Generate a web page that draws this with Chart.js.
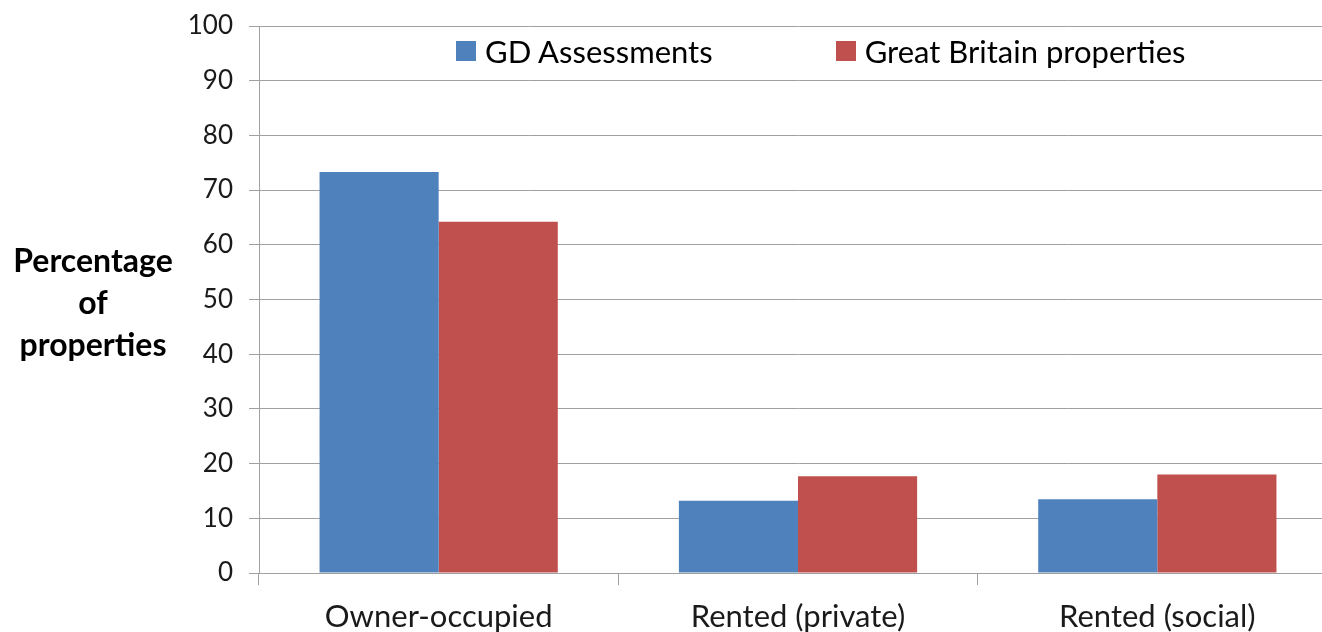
<!DOCTYPE html>
<html>
<head>
<meta charset="utf-8">
<script src="https://cdn.jsdelivr.net/npm/chart.js@4/dist/chart.umd.min.js"></script>
<style>
  html, body { margin: 0; padding: 0; background: #fff; overflow: hidden; }
  #wrap { position: relative; width: 1337px; height: 632px; }
  #legend {
    position: absolute; left: 456px; top: 32px;
    display: flex; align-items: center; gap: 123px;
    font: 31px Lato, "Open Sans", sans-serif; color: #000;
  }
  #legend .item { display: flex; align-items: center; white-space: nowrap; }
  #legend .box { width: 20px; height: 20px; margin-right: 9px; }
</style>
</head>
<body>
<div id="wrap">
  <canvas id="tenureChart" width="1337" height="632"></canvas>
  <div id="legend"></div>
</div>
<script>
const categories = ['Owner-occupied', 'Rented (private)', 'Rented (social)'];
const gdAssessments = [73.3, 13.2, 13.5];
const gbProperties = [64.2, 17.7, 18.0];
const yTicks = { min: 0, max: 100, step: 10 };
const yTitleLines = ['Percentage', 'of', 'properties'];

const FONT = 'Lato, "Open Sans", sans-serif';
const gridGray = '#a0a0a0';

// html legend, built from the datasets
const htmlLegend = {
    id: 'htmlLegend',
    afterUpdate(chart) {
        const box = document.getElementById('legend');
        box.innerHTML = '';
        chart.data.datasets.forEach(ds => {
            const item = document.createElement('div');
            item.className = 'item';
            const sw = document.createElement('span');
            sw.className = 'box';
            sw.style.background = ds.backgroundColor;
            const txt = document.createElement('span');
            txt.textContent = ds.label;
            item.appendChild(sw);
            item.appendChild(txt);
            box.appendChild(item);
        });
    }
};

const yTitle = {
    id: 'yTitle',
    afterDraw(chart) {
        const ctx = chart.ctx;
        ctx.save();
        ctx.font = 'bold 32px ' + FONT;
        ctx.fillStyle = '#000';
        ctx.textAlign = 'center';
        ctx.textBaseline = 'middle';
        const ys = [262, 304, 346];
        yTitleLines.forEach((t, i) => ctx.fillText(t, 93, ys[i]));
        ctx.restore();
    }
};

new Chart(document.getElementById('tenureChart'), {
    type: 'bar',
    data: {
        labels: categories,
        datasets: [
            {
                label: 'GD Assessments',
                data: gdAssessments,
                backgroundColor: '#4F81BD',
                borderWidth: 0
            },
            {
                label: 'Great Britain properties',
                data: gbProperties,
                backgroundColor: '#C0504D',
                borderWidth: 0
            }
        ]
    },
    options: {
        responsive: false,
        animation: false,
        layout: { padding: { top: 26, right: 0, bottom: 0, left: 0 } },
        datasets: {
            bar: { categoryPercentage: 0.663, barPercentage: 1.0 }
        },
        scales: {
            x: {
                grid: {
                    offset: true,
                    drawOnChartArea: false,
                    drawTicks: true,
                    tickLength: 12,
                    color: gridGray
                },
                border: { color: gridGray },
                ticks: {
                    font: { family: FONT, size: 31 },
                    color: '#1a1a1a',
                    padding: 13
                },
                afterFit: s => { s.height = 59; }
            },
            y: {
                min: yTicks.min,
                max: yTicks.max,
                grid: { color: gridGray, tickLength: 10 },
                border: { color: gridGray },
                ticks: {
                    stepSize: yTicks.step,
                    font: { family: FONT, size: 26 },
                    color: '#1a1a1a',
                    padding: 16
                },
                afterFit: s => { s.width = 259; s.paddingTop = 0; }
            }
        },
        plugins: {
            legend: { display: false },
            tooltip: { enabled: false }
        }
    },
    plugins: [htmlLegend, yTitle]
});
</script>
</body>
</html>
